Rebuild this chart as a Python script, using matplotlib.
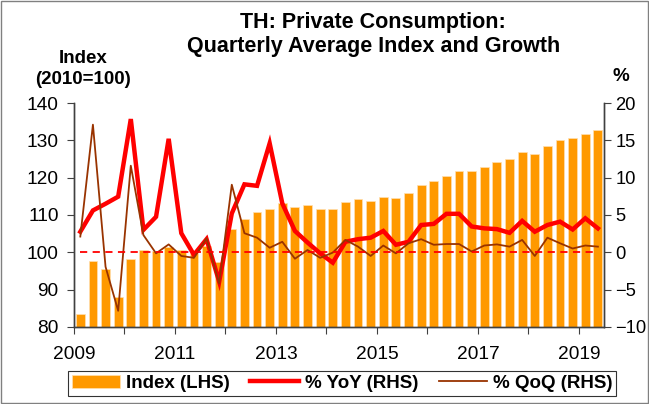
import matplotlib
matplotlib.use("Agg")
import matplotlib.pyplot as plt
import numpy as np
from matplotlib.patches import Rectangle

plt.rcParams['font.family'] = ['Liberation Sans', 'DejaVu Sans']

# quarterly data 2009Q1 - 2019Q2
quarters = [f"{y}Q{q}" for y in range(2009, 2020) for q in range(1, 5)][:42]
index_lhs = [83.4, 97.6, 95.5, 88.0, 98.1, 100.5, 100.2, 101.5, 100.6, 99.9, 101.7, 97.5,
             106.1, 109.0, 110.9, 111.5, 113.1, 112.1, 112.7, 111.7, 111.7, 113.5, 114.3, 113.8,
             114.8, 114.6, 115.8, 117.9, 119.1, 120.5, 121.8, 121.8, 122.9, 124.2, 124.9, 126.9,
             126.2, 128.6, 130.0, 130.7, 131.8, 132.7]
yoy = [2.75, 5.6, 6.5, 7.45, 17.85, 3.0, 4.75, 15.2, 2.55, -0.35, 1.75, -3.95,
       5.2, 9.1, 8.9, 14.6, 6.55, 2.85, 1.3, -0.15, -1.4, 1.4, 1.75, 1.95,
       2.85, 1.0, 1.4, 3.65, 3.8, 5.15, 5.15, 3.45, 3.2, 3.1, 2.6, 4.2,
       2.75, 3.65, 4.1, 3.05, 4.55, 3.2]
qoq = [2.1, 17.1, -1.95, -7.85, 11.6, 2.3, -0.15, 1.05, -0.5, -0.75, 1.85, -4.2,
       9.05, 2.55, 1.95, 0.6, 1.4, -0.87, 0.3, -0.75, -0.05, 1.65, 0.75, -0.5,
       0.9, -0.15, 1.2, 1.75, 1.0, 1.1, 1.1, 0.1, 0.9, 1.05, 0.75, 1.65,
       -0.5, 1.95, 1.2, 0.5, 0.9, 0.75]
years = list(range(2009, 2020))

x = np.arange(len(quarters)) + 0.5

fig = plt.figure(figsize=(6.49, 4.04), dpi=100)
ax = fig.add_axes([0.114, 0.191, 0.817, 0.554])
ax2 = ax.twinx()
ax.set_zorder(ax2.get_zorder() - 1)
ax2.patch.set_visible(False)

bars = ax.bar(x, index_lhs, width=0.7, color='#FF9900', edgecolor='#FFE0B0', linewidth=0.5,
              label='Index (LHS)')
ax.set_ylim(80, 140)
ax.set_yticks(range(80, 141, 10))
ax.set_xlim(0, len(quarters))
ax.set_xticks([4 * i for i in range(len(years))])
ax.set_xticklabels([str(y) if i % 2 == 0 else '' for i, y in enumerate(years)])

l1, = ax2.plot(x, yoy, color='#FF0000', lw=3.2, solid_joinstyle='miter', label='% YoY (RHS)')
l2, = ax2.plot(x, qoq, color='#993300', lw=1.3, label='% QoQ (RHS)')
ax2.plot(x, np.zeros(len(x)), color='#FF0000', lw=1.3, ls=(0, (4, 3)))
ax2.set_ylim(-10, 20)
ax2.set_yticks(range(-10, 21, 5))

for a in (ax, ax2):
    a.spines['top'].set_visible(False)
    for s in ('left', 'right', 'bottom'):
        a.spines[s].set_color('#404040')
        a.spines[s].set_linewidth(1.0)
    a.tick_params(labelsize=13.8, length=5, color='#404040', direction='out', pad=6)
ax.tick_params(axis='x', pad=9)
ax2.tick_params(axis='y', labelsize=13.2, pad=3)

fig.text(0.575, 0.915, 'TH: Private Consumption:\nQuarterly Average Index and Growth',
         ha='center', va='center', fontsize=15.5, fontweight='bold', linespacing=1.2)
fig.text(0.128, 0.83, 'Index\n(2010=100)', ha='center', va='center', fontsize=13.5,
         fontweight='bold', linespacing=1.3)
fig.text(0.957, 0.81, '%', ha='center', va='center', fontsize=13.5, fontweight='bold')

leg = fig.legend([bars, l1, l2], ['Index (LHS)', '% YoY (RHS)', '% QoQ (RHS)'],
                 loc='center', bbox_to_anchor=(0.527, 0.051), ncol=3, frameon=True,
                 fancybox=False, edgecolor='black', prop={'weight': 'bold', 'size': 13.5},
                 handlelength=2.6, columnspacing=1.1, handletextpad=0.3,
                 borderpad=0.2, borderaxespad=0.2)
leg.get_frame().set_linewidth(0.8)

fig.patches.append(Rectangle((0.002, 0.002), 0.996, 0.996, transform=fig.transFigure,
                             fill=False, edgecolor='#808080', lw=1))

fig.savefig('out.png', dpi=100)
